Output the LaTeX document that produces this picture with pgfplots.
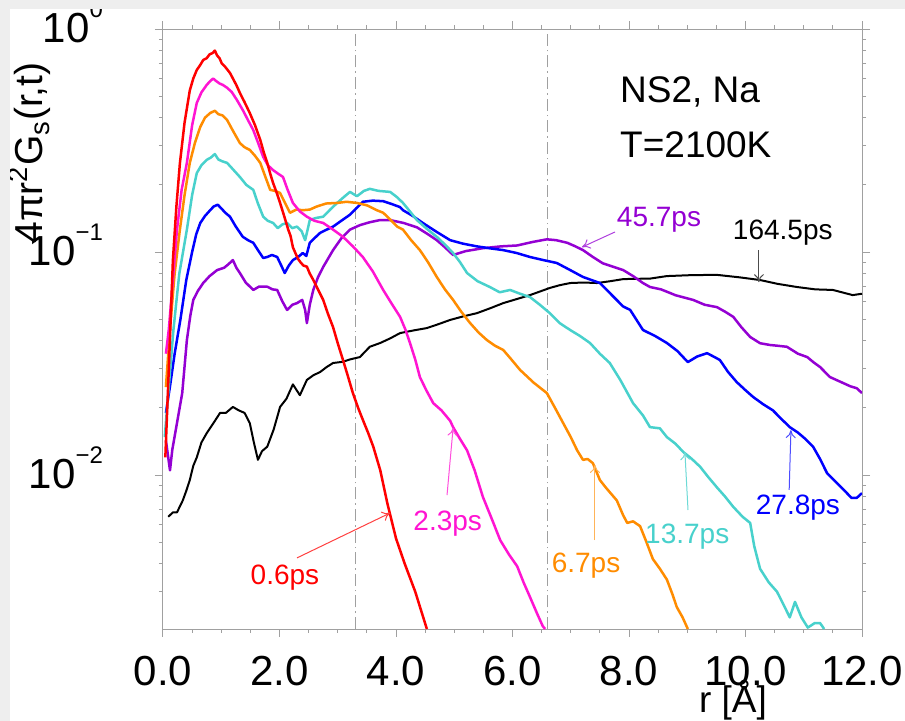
\documentclass[border=0pt]{standalone}
\usepackage{fontspec}
\setmainfont{Liberation Sans}
\usepackage{pgfplots}
\pgfplotsset{compat=1.18}
\usetikzlibrary{arrows.meta}

\definecolor{cRed}{RGB}{255,0,0}
\definecolor{cMag}{RGB}{255,20,210}
\definecolor{cOra}{RGB}{255,140,0}
\definecolor{cTur}{RGB}{72,209,204}
\definecolor{cBlu}{RGB}{0,0,255}
\definecolor{cPur}{RGB}{148,0,211}
\definecolor{cGray}{RGB}{238,238,238}
\definecolor{cAxis}{RGB}{160,160,160}

\newcommand\tfont{\fontsize{21}{25}\selectfont}
\newcommand\expo[1]{\raisebox{12.5pt}{\fontsize{12}{12}\selectfont #1}}

\begin{document}
\begin{tikzpicture}
\fill[white] (-81.5pt,-46pt) rectangle (371pt,314.5pt);
\useasboundingbox (-81.5pt,-46pt) rectangle (371pt,314.5pt);
\begin{axis}[
  at={(0pt,0pt)}, anchor=south west,
  scale only axis, width=349.5pt, height=300pt,
  xmin=0, xmax=12, ymode=log, ymin=0.00204, ymax=1,
  xtick={0,2,...,12}, minor x tick num=3,
  ytick={0.01,0.1,1},
  yticklabels={10\expo{−2},10\expo{−1},10\expo{0}},
  minor ytick={0.003,0.004,0.005,0.006,0.007,0.008,0.009,0.02,0.03,0.04,0.05,0.06,0.07,0.08,0.09,0.2,0.3,0.4,0.5,0.6,0.7,0.8,0.9},
  /pgf/number format/fixed, /pgf/number format/fixed zerofill,
  /pgf/number format/precision=1, /pgf/number format/assume math mode=true,
  xticklabel style={font=\tfont, anchor=base, yshift=-24.5pt},
  yticklabel style={font=\tfont, anchor=base east, xshift=-22.5pt, yshift=-6.5pt},
  axis line style={cAxis, line width=0.5pt},
  tick style={cAxis, line width=0.5pt},
  major tick length=4pt, minor tick length=2pt, tick align=outside,
  no markers,
  every axis plot/.append style={line width=1.25pt, line join=round},
]
\addplot[cAxis, line width=0.5pt, dash pattern=on 6pt off 2pt on 0.8pt off 2pt] coordinates {(3.3,0.00204) (3.3,1)};
\addplot[cAxis, line width=0.5pt, dash pattern=on 6pt off 2pt on 0.8pt off 2pt] coordinates {(6.6,0.00204) (6.6,1)};

% 164.5ps
\addplot[black, line width=1pt] coordinates {
(0.09,0.0065) (0.17,0.0068) (0.24,0.0068) (0.34,0.0077) (0.40,0.0085) (0.46,0.0095) (0.52,0.011) (0.58,0.012) (0.66,0.014) (0.75,0.0154) (0.86,0.017) (0.98,0.019) (1.08,0.019) (1.20,0.0202) (1.30,0.0195) (1.40,0.019) (1.49,0.0171) (1.56,0.014) (1.63,0.0117) (1.70,0.0128) (1.79,0.0134) (1.90,0.016) (2.01,0.0202) (2.12,0.022) (2.23,0.0255) (2.35,0.0228) (2.47,0.0267) (2.58,0.028) (2.70,0.029) (2.81,0.0305) (2.92,0.0318) (3.09,0.0322) (3.21,0.033) (3.38,0.0338) (3.55,0.0376) (3.73,0.0391) (3.90,0.041) (4.07,0.0433) (4.30,0.0445) (4.53,0.0456) (4.73,0.0475) (4.93,0.0496) (5.16,0.0515) (5.39,0.0532) (5.62,0.056) (5.84,0.059) (6.07,0.0615) (6.30,0.0641) (6.47,0.0665) (6.64,0.069) (6.81,0.071) (6.99,0.0726) (7.22,0.073) (7.45,0.0726) (7.68,0.074) (7.90,0.0756) (8.07,0.0758) (8.36,0.076) (8.65,0.078) (9.08,0.0788) (9.51,0.079) (9.90,0.077) (10.25,0.0749) (10.55,0.072) (10.88,0.0697) (11.20,0.068) (11.50,0.0676) (11.84,0.0641) (12.0,0.065)};

% 45.7ps
\addplot[cPur] coordinates {
(0.05,0.0143) (0.12,0.0105) (0.16,0.013) (0.24,0.0171) (0.33,0.0233) (0.41,0.0403) (0.47,0.052) (0.52,0.061) (0.60,0.067) (0.69,0.0726) (0.80,0.078) (0.93,0.083) (1.05,0.085) (1.12,0.088) (1.20,0.092) (1.26,0.085) (1.32,0.0805) (1.42,0.073) (1.55,0.0676) (1.65,0.070) (1.79,0.0699) (1.88,0.068) (1.96,0.0676) (2.05,0.06) (2.13,0.055) (2.22,0.058) (2.30,0.059) (2.39,0.061) (2.44,0.055) (2.47,0.048) (2.52,0.058) (2.58,0.0676) (2.66,0.077) (2.75,0.0857) (2.84,0.094) (2.92,0.102) (3.06,0.115) (3.21,0.126) (3.38,0.132) (3.55,0.136) (3.72,0.139) (3.90,0.139) (4.13,0.135) (4.36,0.129) (4.53,0.121) (4.70,0.113) (4.84,0.105) (4.98,0.097) (5.20,0.101) (5.49,0.104) (5.80,0.106) (6.08,0.107) (6.35,0.111) (6.59,0.114) (6.75,0.113) (6.94,0.11) (7.08,0.106) (7.21,0.102) (7.38,0.095) (7.55,0.089) (7.72,0.086) (7.90,0.083) (8.07,0.078) (8.24,0.0726) (8.36,0.0697) (8.55,0.068) (8.80,0.064) (9.10,0.061) (9.30,0.058) (9.51,0.0566) (9.65,0.054) (9.79,0.0512) (9.93,0.046) (10.08,0.0416) (10.25,0.039) (10.42,0.0383) (10.55,0.038) (10.71,0.0376) (10.90,0.035) (11.06,0.0338) (11.17,0.032) (11.28,0.0305) (11.45,0.0275) (11.67,0.0259) (11.80,0.025) (11.91,0.0245) (12.0,0.0233)};

% 27.8ps
\addplot[cBlu] coordinates {
(0.05,0.019) (0.12,0.025) (0.20,0.035) (0.30,0.05) (0.40,0.075) (0.50,0.10) (0.57,0.12) (0.64,0.135) (0.72,0.145) (0.81,0.154) (0.87,0.16) (0.94,0.163) (1.00,0.157) (1.07,0.15) (1.15,0.144) (1.25,0.13) (1.37,0.117) (1.46,0.113) (1.55,0.11) (1.63,0.102) (1.72,0.094) (1.79,0.095) (1.87,0.097) (1.96,0.095) (2.03,0.087) (2.09,0.0805) (2.16,0.087) (2.23,0.092) (2.32,0.095) (2.40,0.099) (2.46,0.096) (2.52,0.11) (2.61,0.116) (2.70,0.122) (2.81,0.126) (2.92,0.13) (3.06,0.138) (3.21,0.147) (3.32,0.157) (3.43,0.168) (3.60,0.170) (3.78,0.169) (3.93,0.164) (4.07,0.159) (4.12,0.154) (4.29,0.145) (4.46,0.135) (4.70,0.123) (4.93,0.113) (5.15,0.109) (5.39,0.106) (5.60,0.104) (5.84,0.102) (6.07,0.099) (6.30,0.095) (6.53,0.092) (6.76,0.0893) (6.99,0.083) (7.21,0.0773) (7.50,0.0726) (7.67,0.0655) (7.90,0.057) (8.02,0.055) (8.24,0.0447) (8.45,0.042) (8.65,0.0391) (8.83,0.036) (9.01,0.0321) (9.17,0.034) (9.34,0.0352) (9.45,0.034) (9.56,0.0328) (9.70,0.029) (9.85,0.0261) (10.00,0.024) (10.13,0.0224) (10.30,0.0208) (10.47,0.0195) (10.62,0.0178) (10.76,0.0164) (10.90,0.0155) (11.03,0.0145) (11.16,0.0134) (11.28,0.0118) (11.40,0.0102) (11.57,0.0092) (11.74,0.0083) (11.82,0.0079) (11.91,0.0079) (12.0,0.0083)};

% 13.7ps
\addplot[cTur] coordinates {
(0.03,0.0148) (0.10,0.025) (0.18,0.045) (0.28,0.08) (0.41,0.126) (0.50,0.18) (0.58,0.226) (0.66,0.245) (0.75,0.259) (0.82,0.265) (0.89,0.275) (0.95,0.26) (1.02,0.255) (1.10,0.251) (1.20,0.235) (1.32,0.217) (1.43,0.2) (1.55,0.19) (1.63,0.165) (1.72,0.144) (1.80,0.138) (1.89,0.135) (1.97,0.128) (2.05,0.133) (2.13,0.135) (2.22,0.128) (2.30,0.13) (2.38,0.124) (2.44,0.113) (2.48,0.125) (2.52,0.139) (2.62,0.142) (2.75,0.144) (2.87,0.155) (2.99,0.166) (3.10,0.176) (3.21,0.186) (3.33,0.178) (3.45,0.188) (3.55,0.192) (3.70,0.188) (3.90,0.186) (4.02,0.176) (4.12,0.166) (4.24,0.152) (4.36,0.139) (4.53,0.127) (4.70,0.117) (4.84,0.108) (4.98,0.099) (5.10,0.09) (5.22,0.0805) (5.40,0.074) (5.61,0.0697) (5.78,0.066) (5.96,0.0676) (6.13,0.065) (6.30,0.0628) (6.47,0.058) (6.64,0.0532) (6.81,0.048) (6.99,0.0447) (7.16,0.042) (7.33,0.0391) (7.50,0.035) (7.67,0.0318) (7.85,0.0267) (8.07,0.021) (8.24,0.0185) (8.36,0.0164) (8.53,0.0162) (8.65,0.0148) (8.80,0.0138) (8.93,0.0127) (9.08,0.0118) (9.22,0.0109) (9.36,0.0098) (9.51,0.0088) (9.65,0.0080) (9.79,0.0072) (9.95,0.0065) (10.08,0.0061) (10.15,0.0048) (10.25,0.0038) (10.40,0.0033) (10.54,0.0030) (10.66,0.0026) (10.76,0.0023) (10.85,0.0027) (10.96,0.0023) (11.07,0.00207) (11.19,0.00217) (11.28,0.00217) (11.35,0.00204)};

% 6.7ps
\addplot[cOra] coordinates {
(0.05,0.0248) (0.12,0.045) (0.20,0.08) (0.29,0.126) (0.37,0.18) (0.46,0.251) (0.55,0.31) (0.64,0.364) (0.72,0.40) (0.81,0.42) (0.89,0.43) (0.95,0.415) (1.02,0.41) (1.10,0.391) (1.20,0.35) (1.32,0.308) (1.40,0.295) (1.49,0.287) (1.58,0.27) (1.67,0.251) (1.75,0.22) (1.84,0.19) (1.92,0.188) (2.01,0.184) (2.10,0.165) (2.18,0.15) (2.29,0.155) (2.40,0.154) (2.52,0.155) (2.64,0.16) (2.80,0.165) (2.99,0.166) (3.15,0.168) (3.33,0.166) (3.50,0.162) (3.67,0.154) (3.78,0.15) (3.90,0.14) (4.02,0.13) (4.12,0.126) (4.26,0.113) (4.41,0.102) (4.55,0.09) (4.70,0.0773) (4.84,0.068) (4.98,0.061) (5.12,0.054) (5.27,0.0481) (5.42,0.0435) (5.56,0.0403) (5.70,0.038) (5.84,0.0364) (5.98,0.033) (6.13,0.0296) (6.36,0.026) (6.59,0.0233) (6.73,0.020) (6.87,0.0171) (7.00,0.0148) (7.11,0.0129) (7.21,0.0117) (7.29,0.0118) (7.38,0.0113) (7.50,0.0095) (7.60,0.0088) (7.70,0.0082) (7.79,0.0077) (7.90,0.0066) (7.97,0.0061) (8.07,0.0062) (8.19,0.0059) (8.30,0.0050) (8.41,0.0042) (8.53,0.0038) (8.65,0.0034) (8.75,0.0029) (8.82,0.00256) (8.92,0.0023) (9.01,0.00204)};

% 2.3ps
\addplot[cMag] coordinates {
(0.05,0.035) (0.10,0.045) (0.16,0.07) (0.24,0.126) (0.32,0.19) (0.41,0.251) (0.50,0.37) (0.58,0.466) (0.66,0.52) (0.75,0.561) (0.80,0.58) (0.86,0.60) (0.91,0.585) (0.97,0.57) (1.03,0.561) (1.10,0.545) (1.18,0.522) (1.27,0.48) (1.37,0.433) (1.46,0.39) (1.55,0.352) (1.63,0.31) (1.72,0.267) (1.80,0.245) (1.89,0.233) (1.97,0.225) (2.06,0.217) (2.14,0.19) (2.23,0.166) (2.35,0.152) (2.47,0.144) (2.60,0.138) (2.75,0.135) (2.92,0.126) (3.09,0.117) (3.26,0.106) (3.43,0.095) (3.60,0.082) (3.78,0.0676) (3.92,0.059) (4.07,0.0512) (4.16,0.045) (4.24,0.0391) (4.33,0.033) (4.41,0.0275) (4.52,0.024) (4.64,0.021) (4.78,0.0195) (4.93,0.0175) (4.98,0.0164) (5.10,0.0145) (5.22,0.0129) (5.35,0.0105) (5.49,0.008) (5.64,0.0064) (5.79,0.0051) (5.94,0.0044) (6.08,0.0039) (6.19,0.0033) (6.30,0.00284) (6.42,0.0024) (6.52,0.0021) (6.56,0.00204)};

% 0.6ps
\addplot[cRed] coordinates {
(0.04,0.012) (0.10,0.03) (0.17,0.092) (0.23,0.16) (0.29,0.25) (0.37,0.38) (0.46,0.53) (0.52,0.60) (0.58,0.655) (0.64,0.69) (0.69,0.726) (0.75,0.74) (0.80,0.77) (0.85,0.78) (0.89,0.80) (0.93,0.76) (0.97,0.74) (1.01,0.70) (1.06,0.68) (1.10,0.66) (1.15,0.635) (1.20,0.60) (1.26,0.56) (1.32,0.517) (1.40,0.47) (1.49,0.42) (1.58,0.37) (1.67,0.318) (1.73,0.28) (1.79,0.251) (1.84,0.225) (1.89,0.204) (1.95,0.185) (2.01,0.166) (2.08,0.145) (2.15,0.126) (2.19,0.118) (2.23,0.105) (2.28,0.098) (2.32,0.093) (2.36,0.09) (2.41,0.087) (2.47,0.086) (2.52,0.08) (2.58,0.075) (2.66,0.068) (2.75,0.061) (2.83,0.053) (2.92,0.046) (3.00,0.039) (3.09,0.0328) (3.17,0.028) (3.26,0.0233) (3.35,0.020) (3.43,0.0177) (3.52,0.0155) (3.61,0.0134) (3.73,0.0105) (3.85,0.0075) (4.00,0.0052) (4.15,0.0040) (4.33,0.0030) (4.53,0.00204)};

% annotations
\node[font=\fontsize{18.5}{22}\selectfont, anchor=base west] at (rel axis cs:0.644,0.878) {NS2, Na};
\node[font=\fontsize{18.5}{22}\selectfont, anchor=base west] at (rel axis cs:0.644,0.785) {T=2100K};

\tikzset{lab/.style={font=\fontsize{14}{16}\selectfont, inner sep=0pt}, arr/.style={line width=0.5pt, -{To[length=4pt,width=5pt]}}}
\node[lab, text=cRed] at (axis cs:2.094,0.00345) {0.6ps};
\draw[arr, cRed!75] (axis cs:2.30,0.00425) -- (axis cs:3.90,0.00676);
\node[lab, text=cMag] at (axis cs:4.888,0.00603) {2.3ps};
\draw[arr, cMag!75] (axis cs:4.876,0.00813) -- (axis cs:4.98,0.01625);
\node[lab, text=cOra] at (axis cs:7.262,0.00391) {6.7ps};
\draw[arr, cOra!65] (axis cs:7.416,0.00511) -- (axis cs:7.416,0.0111);
\node[lab, text=cTur] at (axis cs:9.00,0.00527) {13.7ps};
\draw[arr, cTur!80] (axis cs:9.013,0.00697) -- (axis cs:8.96,0.01268);
\node[lab, text=cBlu] at (axis cs:10.90,0.00711) {27.8ps};
\draw[arr, cBlu!70] (axis cs:10.75,0.00857) -- (axis cs:10.78,0.0159);
\node[lab, text=cPur] at (axis cs:8.515,0.139) {45.7ps};
\draw[arr, cPur!75] (axis cs:7.76,0.123) -- (axis cs:7.193,0.1052);
\node[lab, text=black] at (axis cs:10.64,0.1217) {164.5ps};
\draw[arr, black!70] (axis cs:10.23,0.102) -- (axis cs:10.23,0.0733);
\end{axis}
\node[font=\fontsize{19.5}{23}\selectfont, rotate=90, anchor=base] at (-60pt,238pt) {4πr\textsuperscript{2}G\textsubscript{s}(r,t)};
\node[font=\fontsize{18.5}{22}\selectfont, anchor=base, inner sep=0pt] at (285pt,-42pt) {r [Å]};
\fill[cGray] (-81.5pt,-46pt) rectangle (-76.5pt,314.5pt);
\fill[cGray] (-81.5pt,310pt) rectangle (371pt,314.5pt);
\end{tikzpicture}
\end{document}
